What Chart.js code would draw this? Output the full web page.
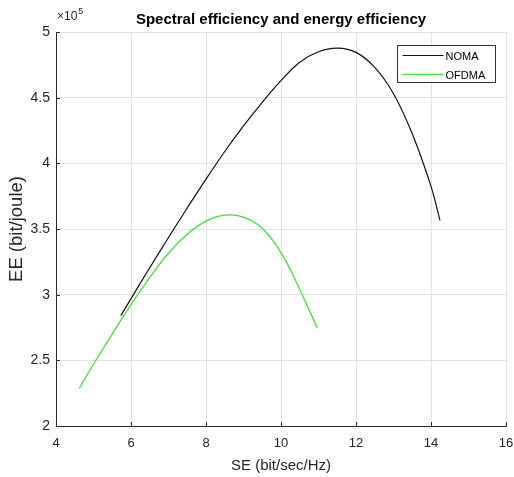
<!DOCTYPE html>
<html>
<head>
<meta charset="utf-8">
<script src="https://cdn.jsdelivr.net/npm/chart.js@4"></script>
<style>
  html, body { margin: 0; padding: 0; background: #fff; }
</style>
</head>
<body>
<canvas id="myChart" width="514" height="477"></canvas>
<script>
// values (EE in bit/joule, SE in bit/sec/Hz)
const seNoma = [5.73, 6.0, 6.5, 7.0, 7.5, 8.0, 8.5, 9.0, 9.5, 10.0, 10.5, 11.0, 11.5, 12.0, 12.5, 13.0, 13.5, 14.0, 14.24];
const eeNoma = [2.84e5, 2.97e5, 3.205e5, 3.435e5, 3.66e5, 3.88e5, 4.09e5, 4.285e5, 4.465e5, 4.63e5, 4.77e5, 4.85e5, 4.877e5, 4.845e5, 4.73e5, 4.53e5, 4.225e5, 3.825e5, 3.565e5];

const seOfdma = [4.62, 5.0, 5.5, 6.0, 6.5, 7.0, 7.5, 8.0, 8.5, 9.0, 9.5, 10.0, 10.5, 10.97];
const eeOfdma = [2.287e5, 2.47e5, 2.70e5, 2.925e5, 3.13e5, 3.315e5, 3.46e5, 3.56e5, 3.605e5, 3.59e5, 3.505e5, 3.32e5, 3.04e5, 2.745e5];

const seTicks = [4, 6, 8, 10, 12, 14, 16];
const eeTicks = [2e5, 2.5e5, 3e5, 3.5e5, 4e5, 4.5e5, 5e5];

const FONT = '"Liberation Sans", Arial, Helvetica, sans-serif';
const TEXT = '#262626';

const toPoints = (xs, ys) => xs.map((x, i) => ({ x: x, y: ys[i] }));

// extra MATLAB-ish bits: exponent label, inner tick marks, boxed legend
const matlabBits = {
    id: 'matlabBits',
    afterDraw(chart) {
        const ctx = chart.ctx;
        const area = chart.chartArea;
        const xs = chart.scales.x;
        const ys = chart.scales.y;
        ctx.save();

        // inner tick marks
        ctx.strokeStyle = TEXT;
        ctx.lineWidth = 1;
        ctx.beginPath();
        seTicks.forEach(v => {
            const px = Math.round(xs.getPixelForValue(v)) + 0.5;
            ctx.moveTo(px, area.bottom);
            ctx.lineTo(px, area.bottom - 4);
        });
        eeTicks.forEach(v => {
            const py = Math.round(ys.getPixelForValue(v)) + 0.5;
            ctx.moveTo(area.left, py);
            ctx.lineTo(area.left + 4, py);
        });
        ctx.stroke();

        // x10^5 exponent
        ctx.fillStyle = TEXT;
        ctx.textBaseline = 'alphabetic';
        ctx.textAlign = 'left';
        ctx.font = '12px ' + FONT;
        ctx.fillText('\u00d710', area.left + 1, area.top - 12);
        const w = ctx.measureText('\u00d710').width;
        ctx.font = '9px ' + FONT;
        ctx.fillText('5', area.left + 1 + w + 1, area.top - 18);

        // legend box
        const bx = 397.5, by = 45.5, bw = 98, bh = 37;
        ctx.fillStyle = '#fff';
        ctx.fillRect(bx, by, bw, bh);
        ctx.strokeStyle = '#333';
        ctx.lineWidth = 1;
        ctx.strokeRect(bx, by, bw, bh);
        ctx.font = '11px ' + FONT;
        ctx.textBaseline = 'middle';
        chart.data.datasets.forEach((ds, i) => {
            const ly = by + 10 + i * 19;
            ctx.strokeStyle = ds.borderColor;
            ctx.lineWidth = ds.borderWidth;
            ctx.beginPath();
            ctx.moveTo(bx + 5, ly);
            ctx.lineTo(bx + 46, ly);
            ctx.stroke();
            ctx.fillStyle = '#000';
            ctx.fillText(ds.label, bx + 48, ly + 1);
        });
        ctx.restore();
    }
};

const ctx = document.getElementById('myChart').getContext('2d');
new Chart(ctx, {
    type: 'scatter',
    data: {
        datasets: [
            {
                label: 'NOMA',
                data: toPoints(seNoma, eeNoma),
                showLine: true,
                borderColor: '#111111',
                borderWidth: 1.2,
                pointRadius: 0,
                tension: 0.4
            },
            {
                label: 'OFDMA',
                data: toPoints(seOfdma, eeOfdma),
                showLine: true,
                borderColor: '#3fe03f',
                borderWidth: 1.3,
                pointRadius: 0,
                tension: 0.4
            }
        ]
    },
    options: {
        responsive: false,
        animation: false,
        devicePixelRatio: 1,
        layout: { padding: 0 },
        plugins: {
            legend: { display: false },
            tooltip: { enabled: false },
            title: {
                display: true,
                text: 'Spectral efficiency and energy efficiency',
                fullSize: false,
                color: '#000',
                font: { family: FONT, size: 15, weight: 'bold' },
                padding: { top: 11, bottom: 3 }
            }
        },
        scales: {
            x: {
                type: 'linear',
                min: 4,
                max: 16,
                afterFit: scale => {
                    scale.height = 51;
                    scale.paddingLeft = 0;
                    scale.paddingRight = 8;
                },
                afterBuildTicks: scale => { scale.ticks = seTicks.map(v => ({ value: v })); },
                grid: { color: '#e3e3e3', drawTicks: false },
                border: { color: TEXT, width: 1 },
                ticks: {
                    padding: 10,
                    color: TEXT,
                    maxRotation: 0,
                    font: { family: FONT, size: 13 }
                },
                title: {
                    display: true,
                    text: 'SE (bit/sec/Hz)',
                    color: TEXT,
                    font: { family: FONT, size: 15 },
                    padding: { top: 0, bottom: 2 }
                }
            },
            y: {
                type: 'linear',
                min: 2e5,
                max: 5e5,
                afterFit: scale => { scale.width = 56; },
                afterBuildTicks: scale => { scale.ticks = eeTicks.map(v => ({ value: v })); },
                grid: { color: '#e3e3e3', drawTicks: false },
                border: { color: TEXT, width: 1 },
                ticks: {
                    padding: 6,
                    color: TEXT,
                    font: { family: FONT, size: 14 },
                    callback: v => String(+(v / 1e5).toFixed(1))
                },
                title: {
                    display: true,
                    text: 'EE (bit/joule)',
                    color: TEXT,
                    font: { family: FONT, size: 18.5 },
                    padding: { top: 6, bottom: 0 }
                }
            }
        }
    },
    plugins: [matlabBits]
});
</script>
</body>
</html>
